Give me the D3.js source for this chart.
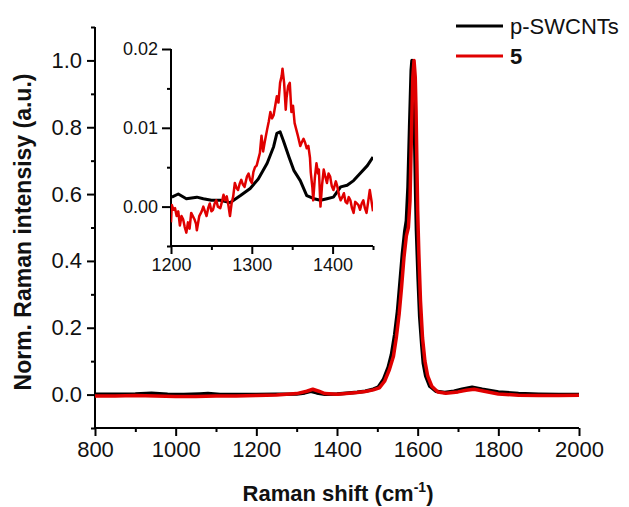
<!DOCTYPE html>
<html>
<head>
<meta charset="utf-8">
<script src="https://cdn.jsdelivr.net/npm/d3@7"></script>
<style>
  body { margin: 0; background: #fff; }
  text { font-family: "Liberation Sans", Arial, sans-serif; fill: #111; }
</style>
</head>
<body>
<script>
// main spectrum, p-SWCNTs (black)
var blackShift = [800,850,900,940,980,1020,1060,1080,1110,1150,1200,1250,1300,1320,1335,1350,1370,1400,1430,1450,1470,1490,1502,1515,1527,1535,1543,1550,1556,1562,1568,1572,1576,1580,1584,1586,1589,1591,1593,1595,1597,1601,1605,1610,1614,1620,1630,1645,1667,1690,1710,1735,1760,1800,1850,1900,1950,2000];
var blackIntensity = [0.001,0.001,0.002,0.004,0.001,0.0,0.002,0.003,0.0,0.0,0.0,0.001,0.002,0.005,0.0095,0.005,0.001,0.002,0.005,0.007,0.01,0.016,0.022,0.045,0.082,0.12,0.18,0.25,0.334,0.42,0.489,0.52,0.62,0.80,0.97,1.0,0.97,0.88,0.735,0.6,0.49,0.35,0.233,0.15,0.093,0.055,0.025,0.01,0.006,0.01,0.016,0.022,0.016,0.008,0.003,0.001,0.0,0.0];

// main spectrum, 5 (red)
var redShift = [800,850,900,950,1000,1050,1100,1150,1200,1250,1300,1325,1340,1355,1370,1400,1430,1450,1470,1490,1505,1518,1530,1540,1547,1554,1560,1566,1572,1577,1581,1584,1588,1591,1594,1596,1598,1600,1603,1607,1612,1618,1625,1635,1650,1670,1700,1720,1740,1765,1800,1850,1900,1950,2000];
var redIntensity = [-0.004,-0.004,-0.003,-0.004,-0.006,-0.006,-0.004,-0.004,-0.003,-0.001,0.003,0.01,0.016,0.01,0.003,0.001,0.004,0.006,0.009,0.014,0.02,0.04,0.075,0.115,0.17,0.24,0.32,0.41,0.475,0.50,0.58,0.75,0.95,1.0,0.95,0.85,0.70,0.55,0.42,0.28,0.17,0.1,0.055,0.025,0.008,0.004,0.008,0.013,0.016,0.01,0.002,-0.002,-0.003,-0.003,-0.002];

// inset (D band zoom)
var insetBlackShift = [1201,1209,1219,1232,1240,1250,1261,1273,1286,1298,1308,1319,1327,1331,1335,1339,1346,1352,1360,1368,1377,1385,1393,1401,1410,1418,1426,1434,1443,1450];
var insetBlackIntensity = [0.0012,0.0016,0.001,0.0012,0.001,0.0008,0.0008,0.0005,0.0014,0.0023,0.0035,0.0055,0.0076,0.0093,0.0095,0.0084,0.0063,0.0046,0.0033,0.0014,0.001,0.0008,0.001,0.0012,0.0025,0.0027,0.0033,0.0042,0.0052,0.0063];
var insetRedShift = [1200,1201,1203,1205,1207,1209,1211,1213,1215,1217,1219,1221,1223,1225,1227,1229,1231,1232,1234,1235,1238,1240,1242,1244,1246,1248,1250,1252,1254,1256,1258,1261,1263,1265,1267,1269,1271,1273,1275,1277,1279,1281,1283,1285,1287,1289,1291,1294,1296,1298,1300,1302,1304,1306,1308,1310,1312,1314,1316,1319,1321,1323,1325,1327,1329,1331,1333,1335,1337,1338,1340,1342,1343,1345,1347,1349,1351,1353,1355,1357,1360,1362,1364,1366,1368,1370,1372,1373,1375,1376,1378,1380,1382,1383,1385,1387,1389,1391,1393,1395,1397,1399,1401,1404,1406,1408,1410,1412,1414,1416,1418,1420,1422,1424,1426,1428,1430,1432,1434,1436,1438,1440,1442,1444,1446,1448,1450];
var insetRedIntensity = [-0.002,0.0002,-0.0004,-0.0002,-0.0012,-0.0006,-0.0024,-0.0012,-0.0016,-0.0026,-0.0033,-0.002,-0.0028,-0.0008,-0.0012,-0.0016,-0.0022,-0.003,-0.0018,-0.0012,-0.0006,0.0,-0.0006,-0.0012,-0.0002,0.0004,-0.0006,-0.0004,0.0004,0.0008,0.0,-0.0002,0.0006,0.0015,0.0008,0.0013,0.0002,-0.0012,0.0004,0.0013,0.003,0.0024,0.0021,0.0029,0.0034,0.0028,0.0025,0.0038,0.0042,0.0034,0.003,0.0044,0.005,0.0052,0.006,0.0068,0.009,0.007,0.0082,0.0098,0.0108,0.012,0.0112,0.0116,0.0128,0.014,0.0132,0.0157,0.0166,0.0175,0.0157,0.0123,0.0138,0.0153,0.0157,0.012,0.0128,0.0106,0.0098,0.009,0.0077,0.0082,0.0086,0.0081,0.0074,0.0077,0.0062,0.0043,0.0024,0.0008,0.0036,0.0055,0.0042,0.0047,0.0,0.0028,0.0047,0.0038,0.003,0.0042,0.0038,0.0026,0.0021,0.0032,0.0025,0.0014,0.0008,0.0012,0.0017,0.0006,0.0004,0.0012,0.0008,-0.0002,-0.0008,0.0006,0.0004,0.0002,-0.0004,0.0004,0.0008,-0.0002,-0.0008,0.0006,0.0021,0.0008,-0.0006];

var xTicks = [800,1000,1200,1400,1600,1800,2000];
var yTicks = [0.0,0.2,0.4,0.6,0.8,1.0];
var insetXTicks = [1200,1300,1400];
var insetYTicks = [0.00,0.01,0.02];
var legendNames = ["p-SWCNTs","5"];
var colors = ["#000000","#e00000"];

var width = 629, height = 507;

var svg = d3.select("body").append("svg")
  .attr("width", width)
  .attr("height", height);

var x = d3.scaleLinear().domain([800, 2000]).range([95, 579]);
var y = d3.scaleLinear().domain([-0.1, 1.1]).range([428, 27]);

function pairs(xs, ys) {
  return xs.map(function(v, i) { return [v, ys[i]]; });
}

// main axes
var xAxis = svg.append("g")
  .attr("transform", "translate(0," + y(-0.1) + ")")
  .call(d3.axisBottom(x).tickValues(d3.range(800, 2001, 100)).tickSize(4).tickFormat(""));
xAxis.selectAll(".tick line").filter(function(d) { return xTicks.indexOf(d) >= 0; }).attr("y2", 8);
xAxis.selectAll(".tick").filter(function(d) { return xTicks.indexOf(d) >= 0; })
  .select("text").text(function(d) { return d; }).attr("y", 13);

var yAxis = svg.append("g")
  .attr("transform", "translate(" + x(800) + ",0)")
  .call(d3.axisLeft(y).tickValues(d3.range(-1, 12).map(function(i) { return i / 10; })).tickSize(4).tickFormat(""));
yAxis.selectAll(".tick line").filter(function(d) { return yTicks.some(function(t) { return Math.abs(t - d) < 1e-9; }); }).attr("x2", -8);
yAxis.selectAll(".tick").filter(function(d) { return yTicks.some(function(t) { return Math.abs(t - d) < 1e-9; }); })
  .select("text").text(function(d) { return d.toFixed(1); }).attr("x", -13);

svg.selectAll(".domain").attr("stroke", "#000").attr("stroke-width", 2);
svg.selectAll(".tick line").attr("stroke", "#000").attr("stroke-width", 2);
xAxis.selectAll("text").style("font-size", "22px").attr("fill", "#111");
yAxis.selectAll("text").style("font-size", "22px").attr("fill", "#111");
xAxis.select(".domain").attr("d", "M" + x(800) + ",0H" + x(2000));
yAxis.select(".domain").attr("d", "M0," + y(-0.1) + "V" + y(1.1));

var line = d3.line().x(function(d) { return x(d[0]); }).y(function(d) { return y(d[1]); });

svg.append("path").datum(pairs(blackShift, blackIntensity))
  .attr("d", line).attr("fill", "none").attr("stroke", colors[0]).attr("stroke-width", 3.5).attr("stroke-linejoin", "round");
svg.append("path").datum(pairs(redShift, redIntensity))
  .attr("d", line).attr("fill", "none").attr("stroke", colors[1]).attr("stroke-width", 3.5).attr("stroke-linejoin", "round");

// axis titles
svg.append("text")
  .attr("transform", "translate(31,232) rotate(-90)")
  .attr("text-anchor", "middle")
  .style("font-size", "23px").style("font-weight", "bold")
  .text("Norm. Raman intensisy (a.u.)");

var xt = svg.append("text")
  .attr("x", 338).attr("y", 501)
  .attr("text-anchor", "middle")
  .style("font-size", "22px").style("font-weight", "bold");
xt.append("tspan").text("Raman shift (cm");
xt.append("tspan").text("-1").style("font-size", "14px").attr("dy", -9);
xt.append("tspan").text(")").attr("dy", 9);

// legend
var legend = svg.append("g");
legendNames.forEach(function(name, i) {
  legend.append("line")
    .attr("x1", 456).attr("x2", 503)
    .attr("y1", 26 + i * 30).attr("y2", 26 + i * 30)
    .attr("stroke", colors[i]).attr("stroke-width", 3);
  legend.append("text")
    .attr("x", 510).attr("y", 34 + i * 30)
    .style("font-size", "22px")
    .style("font-weight", i == 1 ? "bold" : "normal")
    .text(name);
});

// inset
var ix = d3.scaleLinear().domain([1200, 1450]).range([171, 373]);
var iy = d3.scaleLinear().domain([-0.005, 0.02]).range([246, 49]);

var inset = svg.append("g");
inset.append("clipPath").attr("id", "iclip")
  .append("rect").attr("x", ix(1200)).attr("y", iy(0.02) - 10).attr("width", ix(1450) - ix(1200)).attr("height", iy(-0.005) - iy(0.02) + 10);

var ixAxis = inset.append("g")
  .attr("transform", "translate(0," + iy(-0.005) + ")")
  .call(d3.axisBottom(ix).tickValues(d3.range(1200, 1451, 50)).tickSize(4).tickFormat(""));
ixAxis.selectAll(".tick line").filter(function(d) { return insetXTicks.indexOf(d) >= 0; }).attr("y2", 8);
ixAxis.selectAll(".tick").filter(function(d) { return insetXTicks.indexOf(d) >= 0; })
  .select("text").text(function(d) { return d; }).attr("y", 12);
ixAxis.select(".domain").attr("d", "M" + ix(1200) + ",0H" + ix(1450));

var iyAxis = inset.append("g")
  .attr("transform", "translate(" + ix(1200) + ",0)")
  .call(d3.axisLeft(iy).tickValues([-0.005, 0, 0.005, 0.01, 0.015, 0.02]).tickSize(4).tickFormat(""));
iyAxis.selectAll(".tick line").filter(function(d) { return insetYTicks.some(function(t) { return Math.abs(t - d) < 1e-9; }); }).attr("x2", -9);
iyAxis.selectAll(".tick").filter(function(d) { return insetYTicks.some(function(t) { return Math.abs(t - d) < 1e-9; }); })
  .select("text").text(function(d) { return d == 0 ? "0.00" : d.toFixed(2); }).attr("x", -13);
iyAxis.select(".domain").attr("d", "M0," + iy(-0.005) + "V" + iy(0.02));

inset.selectAll(".domain").attr("stroke", "#000").attr("stroke-width", 2);
inset.selectAll(".tick line").attr("stroke", "#000").attr("stroke-width", 2);
inset.selectAll("text").style("font-size", "18px").attr("fill", "#111");

var iline = d3.line().x(function(d) { return ix(d[0]); }).y(function(d) { return iy(d[1]); });

inset.append("path").datum(pairs(insetBlackShift, insetBlackIntensity))
  .attr("d", iline).attr("clip-path", "url(#iclip)")
  .attr("fill", "none").attr("stroke", colors[0]).attr("stroke-width", 3).attr("stroke-linejoin", "round");
inset.append("path").datum(pairs(insetRedShift, insetRedIntensity))
  .attr("d", iline).attr("clip-path", "url(#iclip)")
  .attr("fill", "none").attr("stroke", colors[1]).attr("stroke-width", 2.5).attr("stroke-linejoin", "round");
</script>
</body>
</html>
